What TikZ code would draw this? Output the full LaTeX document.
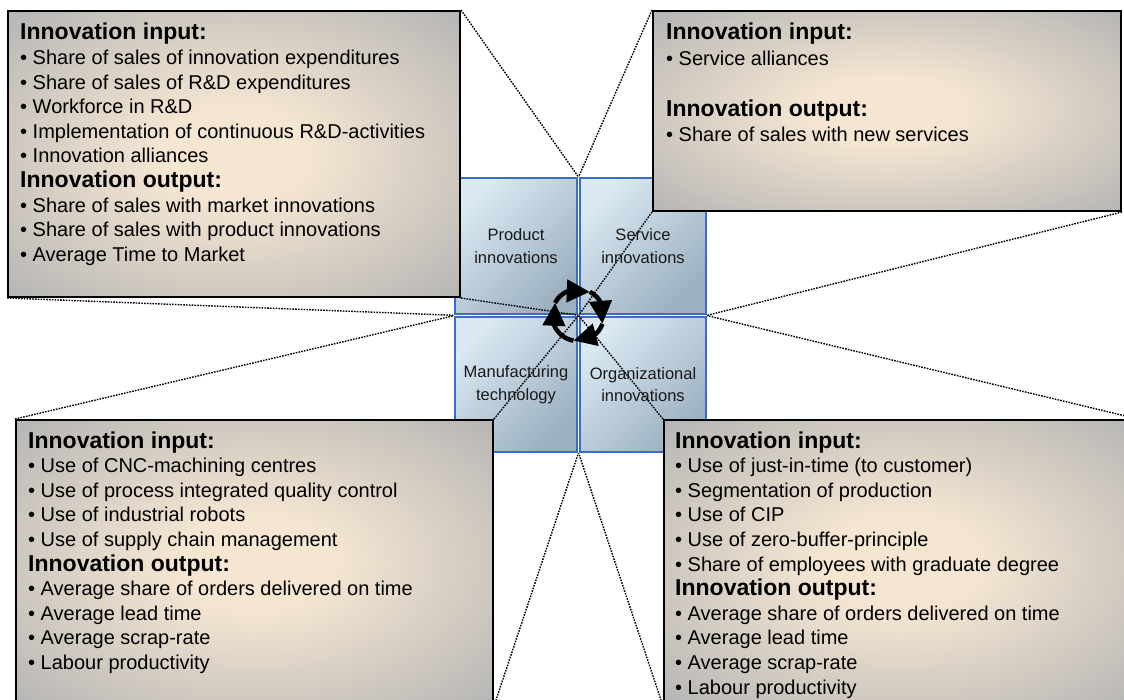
\documentclass[tikz,border=0pt]{standalone}
\usepackage{fontspec}
\setmainfont{Liberation Sans}
\usetikzlibrary{arrows.meta,bending}
\definecolor{boxin}{RGB}{245,230,210}
\definecolor{boxout}{RGB}{180,180,180}
\definecolor{sqlight}{RGB}{218,233,243}
\definecolor{sqdark}{RGB}{156,176,192}
\definecolor{sqborder}{RGB}{58,108,208}
\pgfdeclareradialshading{boxglow}{\pgfpoint{0bp}{0bp}}{color(0bp)=(boxin); color(8bp)=(boxin); color(36bp)=(boxout); color(50bp)=(boxout)}
\newcommand{\ihead}[1]{{\fontsize{23}{24.6}\selectfont\bfseries #1\par}}
\newcommand{\iitem}[1]{•\ #1\par}
\begin{document}
\begin{tikzpicture}[x=1pt,y=-1pt,
  sq/.style={draw=sqborder, line width=2.6pt, top color=sqlight, bottom color=sqdark, shading angle=45, inner sep=0pt, align=center, text=black!90, font=\fontsize{16.5}{22.5}\selectfont},
  infobox/.style={draw=black, line width=2pt, shade, shading=boxglow, anchor=north west, inner sep=0pt},
  infotext/.style={anchor=base west, inner sep=0pt},
  guide/.style={line width=1.4pt, dash pattern=on 1.6pt off 1.2pt},
  ring/.style={line width=4.5pt, -{Triangle[length=23pt,width=22pt,flex]}}]
\useasboundingbox (0,0) rectangle (1124,700);
\clip (0,0) rectangle (1124,700);
\fill[white] (0,0) rectangle (1124,700);
% squares
\node[sq, minimum width=122pt, minimum height=136pt] (prod) at (516,246) {Product\\innovations};
\node[sq, minimum width=126pt, minimum height=136pt] (serv) at (643,246) {Service\\innovations};
\node[sq, minimum width=122pt, minimum height=135pt] (manu) at (516,384.5) {Manufacturing\\technology};
\node[sq, minimum width=126pt, minimum height=135pt] (orga) at (643,384.5) {Organizational\\innovations};
% boxes
\node[infobox, minimum width=452pt, minimum height=286pt] (tlbox) at (7,10) {};
\node[infobox, minimum width=468pt, minimum height=200pt] (trbox) at (652,10) {};
\node[infobox, minimum width=477pt, minimum height=285pt] (blbox) at (15,419) {};
\node[infobox, minimum width=473pt, minimum height=285pt] (brbox) at (663,419) {};
% guide lines
\draw[guide] (tlbox.north east) -- (prod.north east);
\draw[guide] (tlbox.south east) -- (prod.south east);
\draw[guide] (tlbox.south west) -- (prod.south west);
\draw[guide] (trbox.north west) -- (serv.north west);
\draw[guide] (trbox.south west) -- (serv.south west);
\draw[guide] (trbox.south east) -- (serv.south east);
\draw[guide] (blbox.north west) -- (manu.north west);
\draw[guide] (blbox.north east) -- (manu.north east);
\draw[guide] (blbox.south east) -- (manu.south east);
\draw[guide] (brbox.north west) -- (orga.north west);
\draw[guide] (brbox.south west) -- (orga.south west);
\draw[guide] (brbox.north east) -- (orga.north east);
% texts
\node[infotext] (tltext) at (20,40) {\begin{minipage}[t]{440pt}\fontsize{20}{24.6}\selectfont
\ihead{Innovation input:}
\iitem{Share of sales of innovation expenditures}
\iitem{Share of sales of R\&D expenditures}
\iitem{Workforce in R\&D}
\iitem{Implementation of continuous R\&D-activities}
\iitem{Innovation alliances}
\ihead{Innovation output:}
\iitem{Share of sales with market innovations}
\iitem{Share of sales with product innovations}
\iitem{Average Time to Market}
\end{minipage}};
\node[infotext] (trtext) at (666,40) {\begin{minipage}[t]{440pt}\fontsize{20}{25.5}\selectfont
{\fontsize{23}{25.5}\selectfont\bfseries Innovation input:\par}
\iitem{Service alliances}
\mbox{}\par
{\fontsize{23}{25.5}\selectfont\bfseries Innovation output:\par}
\iitem{Share of sales with new services}
\end{minipage}};
\node[infotext] (bltext) at (28,448) {\begin{minipage}[t]{460pt}\fontsize{20}{24.6}\selectfont
\ihead{Innovation input:}
\iitem{Use of CNC-machining centres}
\iitem{Use of process integrated quality control}
\iitem{Use of industrial robots}
\iitem{Use of supply chain management}
\ihead{Innovation output:}
\iitem{Average share of orders delivered on time}
\iitem{Average lead time}
\iitem{Average scrap-rate}
\iitem{Labour productivity}
\end{minipage}};
\node[infotext] (brtext) at (675,448) {\begin{minipage}[t]{440pt}\fontsize{20}{24.6}\selectfont
\ihead{Innovation input:}
\iitem{Use of just-in-time (to customer)}
\iitem{Segmentation of production}
\iitem{Use of CIP}
\iitem{Use of zero-buffer-principle}
\iitem{Share of employees with graduate degree}
\ihead{Innovation output:}
\iitem{Average share of orders delivered on time}
\iitem{Average lead time}
\iitem{Average scrap-rate}
\iitem{Labour productivity}
\end{minipage}};
% cycle arrows (y axis points down: math angle = -visual angle)
\coordinate (cc) at (578,315);
\draw[ring] ([shift={(-152:26)}]cc) arc[start angle=-152, end angle=-63, radius=26];
\draw[ring] ([shift={(-63:26)}]cc) arc[start angle=-63, end angle=20, radius=26];
\draw[ring] ([shift={(20:26)}]cc) arc[start angle=20, end angle=100, radius=26];
\draw[ring] ([shift={(100:26)}]cc) arc[start angle=100, end angle=208, radius=26];
\end{tikzpicture}
\end{document}
